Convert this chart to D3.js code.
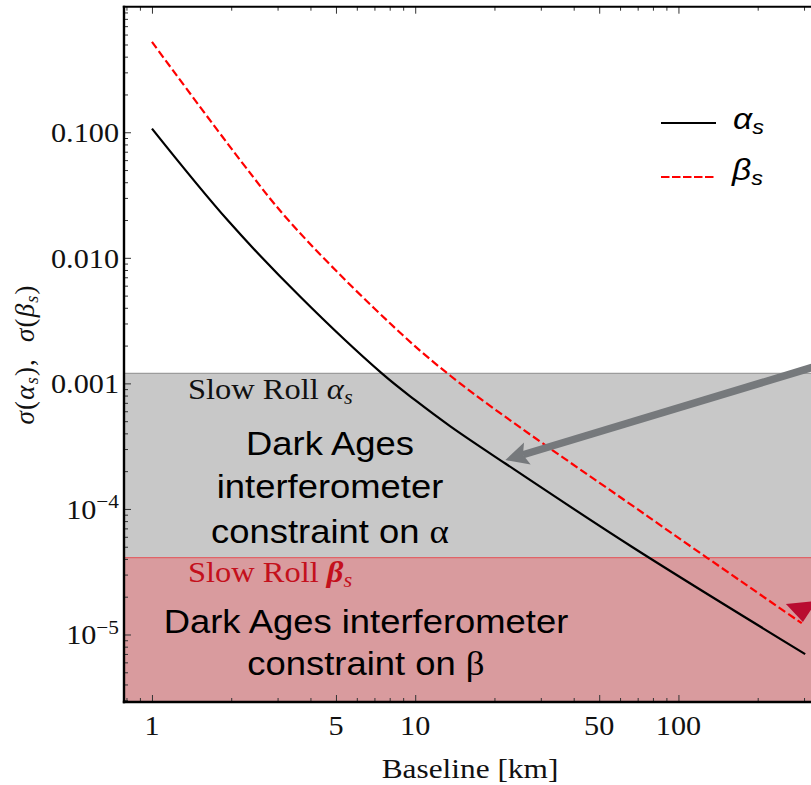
<!DOCTYPE html>
<html>
<head>
<meta charset="utf-8">
<script src="https://d3js.org/d3.v7.min.js"></script>
<style>
html, body { margin: 0; padding: 0; background: #fff; overflow: hidden; }
svg { display: block; }
</style>
</head>
<body>
<svg id="chart" width="811" height="785"></svg>
<script>
// Forecast errors on the running (alpha_s) and running of the running (beta_s)
// of the spectral index versus interferometer baseline.
const alphaBaseline = [1, 1.94, 3.66, 7.47, 10, 13.6, 22, 66.5, 303];
const sigmaAlpha    = [0.107, 0.0199, 0.00489, 0.0012, 7.35e-4, 4.55e-4, 2.3e-4, 5.0e-5, 6.98e-6];
const betaBaseline  = [1, 2.17, 3.3, 7, 13.6, 76.9, 294];
const sigmaBeta     = [0.524, 0.0595, 0.0199, 3.95e-3, 1.15e-3, 8.65e-5, 1.23e-5];

// Slow-roll expectation ranges
const slowRollAlpha = [4.1e-5, 1.2e-3];
const slowRollBeta  = [2.9e-6, 4.1e-5];

// Axis ticks
const xTicks = [1, 5, 10, 50, 100];
const xTickLabels = ["1", "5", "10", "50", "100"];
const xMinorTicks = [0.8, 0.9, 2, 3, 4, 6, 7, 8, 9, 20, 30, 40, 60, 70, 80, 90, 200, 300];
const yTicks = [0.1, 0.01, 0.001, 1e-4, 1e-5];
const yTickLabels = [["0.100"], ["0.010"], ["0.001"], ["10", "−4"], ["10", "−5"]];

const xDomain = [0.783, 336];
const yDomain = [2.9e-6, 1];

// Pointer arrows: [tail, tip] in data coordinates
const alphaArrow = [[695, 2.18e-3], [22, 2.45e-4]];
const betaArrowTip = [297, 1.257e-5];

const SERIF = "'Liberation Serif', 'Times New Roman', serif";
const SANS = "'Liberation Sans', Arial, sans-serif";
const SX = 1.12; // horizontal glyph stretch

const svg = d3.select("#chart");
const plotLeft = 124, plotRight = 817, plotTop = 6.7, plotBottom = 702;

const x = d3.scaleLog().domain(xDomain).range([plotLeft, plotRight]);
const y = d3.scaleLog().domain(yDomain).range([plotBottom, plotTop]);

function stretched(parent, px, py, anchor) {
  return parent.append("g")
    .attr("transform", `translate(${px},${py}) scale(${SX},1)`)
    .append("text")
    .attr("text-anchor", anchor);
}

// Shaded constraint bands
const bands = svg.append("g");
bands.append("rect")
  .attr("x", plotLeft).attr("width", plotRight - plotLeft)
  .attr("y", y(slowRollAlpha[1])).attr("height", y(slowRollAlpha[0]) - y(slowRollAlpha[1]))
  .attr("fill", "#c8c8c8");
bands.append("line")
  .attr("x1", plotLeft).attr("x2", plotRight)
  .attr("y1", y(slowRollAlpha[1])).attr("y2", y(slowRollAlpha[1]))
  .attr("stroke", "#9c9c9c").attr("stroke-width", 1.2);
bands.append("rect")
  .attr("x", plotLeft).attr("width", plotRight - plotLeft)
  .attr("y", y(slowRollBeta[1])).attr("height", y(slowRollBeta[0]) - y(slowRollBeta[1]))
  .attr("fill", "#d99b9e");
bands.append("line")
  .attr("x1", plotLeft).attr("x2", plotRight)
  .attr("y1", y(slowRollBeta[1])).attr("y2", y(slowRollBeta[1]))
  .attr("stroke", "#e06468").attr("stroke-width", 1.2);

// Curves
const line = d3.line().x(d => x(d[0])).y(d => y(d[1])).curve(d3.curveCatmullRom.alpha(0.5));
svg.append("path")
  .datum(alphaBaseline.map((b, i) => [b, sigmaAlpha[i]]))
  .attr("d", line).attr("fill", "none")
  .attr("stroke", "#000").attr("stroke-width", 2.2);
svg.append("path")
  .datum(betaBaseline.map((b, i) => [b, sigmaBeta[i]]))
  .attr("d", line).attr("fill", "none")
  .attr("stroke", "#ff0000").attr("stroke-width", 2.2)
  .attr("stroke-dasharray", "8,3.5");

// Band annotations
const ann = svg.append("g");
let t = stretched(ann, 188, 399, "start")
  .attr("font-family", SERIF).attr("font-size", 29).attr("fill", "#111");
t.append("tspan").text("Slow Roll ");
t.append("tspan").attr("font-style", "italic").text("α");
t.append("tspan").attr("font-style", "italic").attr("font-size", 20).attr("dy", 5).text("s");

t = stretched(ann, 188, 582, "start")
  .attr("font-family", SERIF).attr("font-size", 29).attr("fill", "#c4101c");
t.append("tspan").text("Slow Roll ");
t.append("tspan").attr("font-style", "italic").attr("font-weight", "bold").text("β");
t.append("tspan").attr("font-style", "italic").attr("font-size", 20).attr("dy", 5).text("s");

const grayLines = [["Dark Ages", 455], ["interferometer", 498], ["constraint on ", 543, "α"]];
grayLines.forEach(([s, py, g]) => {
  const tt = stretched(ann, 330, py, "middle")
    .attr("font-family", SANS).attr("font-size", 32.5).attr("fill", "#000");
  tt.append("tspan").text(s);
  if (g) tt.append("tspan").attr("font-family", SERIF).attr("font-size", 33).text(g);
});
const redLines = [["Dark Ages interferometer", 633], ["constraint on ", 675, "β"]];
redLines.forEach(([s, py, g]) => {
  const tt = stretched(ann, 366, py, "middle")
    .attr("font-family", SANS).attr("font-size", 32.5).attr("fill", "#000");
  tt.append("tspan").text(s);
  if (g) tt.append("tspan").attr("font-family", SERIF).attr("font-size", 33).text(g);
});

// Gray pointer arrow toward the alpha_s curve
{
  const [tail, tip] = alphaArrow;
  const x0 = x(tail[0]), y0 = y(tail[1]), x1 = x(tip[0]), y1 = y(tip[1]);
  const len = Math.hypot(x1 - x0, y1 - y0);
  const ux = (x1 - x0) / len, uy = (y1 - y0) / len;
  const px = -uy, py = ux;
  const L = 23, W = 11.5;
  const bx = x1 - ux * L, by = y1 - uy * L;
  const nx = x1 - ux * L * 0.8, ny = y1 - uy * L * 0.8;
  const col = "#76797c";
  svg.append("line")
    .attr("x1", x0).attr("y1", y0).attr("x2", nx).attr("y2", ny)
    .attr("stroke", col).attr("stroke-width", 7.5);
  svg.append("path")
    .attr("d", `M${x1},${y1} L${bx + px * W},${by + py * W} L${nx},${ny} L${bx - px * W},${by - py * W} Z`)
    .attr("fill", col);
}

// Crimson pointer head at the end of the beta_s curve
{
  const tx = x(betaArrowTip[0]), ty = y(betaArrowTip[1]);
  svg.append("path")
    .attr("d", `M${tx},${ty} L${tx - 17},${ty - 18} L${tx + 14},${ty - 21} Z`)
    .attr("fill", "#b90c30");
}

// Legend
const leg = svg.append("g");
leg.append("line").attr("x1", 661).attr("x2", 716).attr("y1", 123).attr("y2", 123)
  .attr("stroke", "#000").attr("stroke-width", 2.2);
leg.append("line").attr("x1", 661).attr("x2", 716).attr("y1", 177).attr("y2", 177)
  .attr("stroke", "#ff0000").attr("stroke-width", 2.2).attr("stroke-dasharray", "8.5,2.5");
[["α", 129, 733], ["β", 180, 732]].forEach(([g, py, px]) => {
  const tt = stretched(leg, px, py, "start")
    .attr("font-family", SANS).attr("font-style", "italic").attr("font-size", 30);
  tt.append("tspan").text(g);
  tt.append("tspan").attr("font-size", 21).attr("dy", 5).text("s");
});

// Ticks (inward, on bottom, top and left edges)
const tickStyle = g => {
  g.select(".domain").remove();
  g.selectAll("line").attr("stroke", "#333").attr("stroke-width", 1);
  g.selectAll("text").remove();
};
svg.append("g").attr("transform", `translate(0,${plotBottom})`)
  .call(d3.axisBottom(x).tickValues(xTicks).tickSize(-7).tickFormat("")).call(tickStyle);
svg.append("g").attr("transform", `translate(0,${plotBottom})`)
  .call(d3.axisBottom(x).tickValues(xMinorTicks).tickSize(-4).tickFormat("")).call(tickStyle);
svg.append("g").attr("transform", `translate(0,${plotTop})`)
  .call(d3.axisTop(x).tickValues(xTicks).tickSize(-7).tickFormat("")).call(tickStyle);
svg.append("g").attr("transform", `translate(0,${plotTop})`)
  .call(d3.axisTop(x).tickValues(xMinorTicks).tickSize(-4).tickFormat("")).call(tickStyle);

const yMinorTicks = [];
for (let e = -6; e <= -1; e++) {
  for (let k = 2; k <= 9; k++) {
    const v = k * Math.pow(10, e);
    if (v >= yDomain[0] && v <= yDomain[1]) yMinorTicks.push(v);
  }
}
svg.append("g").attr("transform", `translate(${plotLeft},0)`)
  .call(d3.axisLeft(y).tickValues(yTicks).tickSize(-7).tickFormat("")).call(tickStyle);
svg.append("g").attr("transform", `translate(${plotLeft},0)`)
  .call(d3.axisLeft(y).tickValues(yMinorTicks).tickSize(-4).tickFormat("")).call(tickStyle);

// Tick labels
xTicks.forEach((v, i) => {
  stretched(svg, x(v), 735, "middle")
    .attr("font-family", SERIF).attr("font-size", 27).attr("fill", "#111")
    .text(xTickLabels[i]);
});
yTicks.forEach((v, i) => {
  const parts = yTickLabels[i];
  const tt = stretched(svg, 119, y(v) + 10, "end")
    .attr("font-family", SERIF).attr("font-size", 27).attr("fill", "#111");
  tt.append("tspan").text(parts[0]);
  if (parts[1]) tt.append("tspan").attr("font-size", 19).attr("dy", -11).text(parts[1]);
});

// Frame
const frame = svg.append("g").attr("stroke", "#000").attr("fill", "none");
frame.append("line").attr("x1", plotLeft).attr("x2", plotLeft).attr("y1", plotTop - 1).attr("y2", plotBottom + 1.2).attr("stroke-width", 2.4);
frame.append("line").attr("x1", plotLeft - 1.2).attr("x2", plotRight).attr("y1", plotBottom).attr("y2", plotBottom).attr("stroke-width", 2.4);
frame.append("line").attr("x1", plotLeft - 1.2).attr("x2", plotRight).attr("y1", plotTop).attr("y2", plotTop).attr("stroke-width", 2);

// Axis titles
stretched(svg, 470, 778, "middle")
  .attr("font-family", SERIF).attr("font-size", 28).attr("fill", "#111")
  .text("Baseline [km]");

const yt = svg.append("text")
  .attr("transform", `translate(34,${(plotTop + plotBottom) / 2}) rotate(-90)`)
  .attr("text-anchor", "middle")
  .attr("font-family", SERIF).attr("font-size", 27).attr("fill", "#111")
  .attr("letter-spacing", 1.2);
yt.append("tspan").attr("font-style", "italic").text("σ");
yt.append("tspan").text("(");
yt.append("tspan").attr("font-style", "italic").text("α");
yt.append("tspan").attr("font-style", "italic").attr("font-size", 18).attr("dy", 4).text("s");
yt.append("tspan").attr("dy", -4).text("),\u00a0\u00a0");
yt.append("tspan").attr("font-style", "italic").text("σ");
yt.append("tspan").text("(");
yt.append("tspan").attr("font-style", "italic").text("β");
yt.append("tspan").attr("font-style", "italic").attr("font-size", 18).attr("dy", 4).text("s");
yt.append("tspan").attr("dy", -4).text(")");
</script>
</body>
</html>
